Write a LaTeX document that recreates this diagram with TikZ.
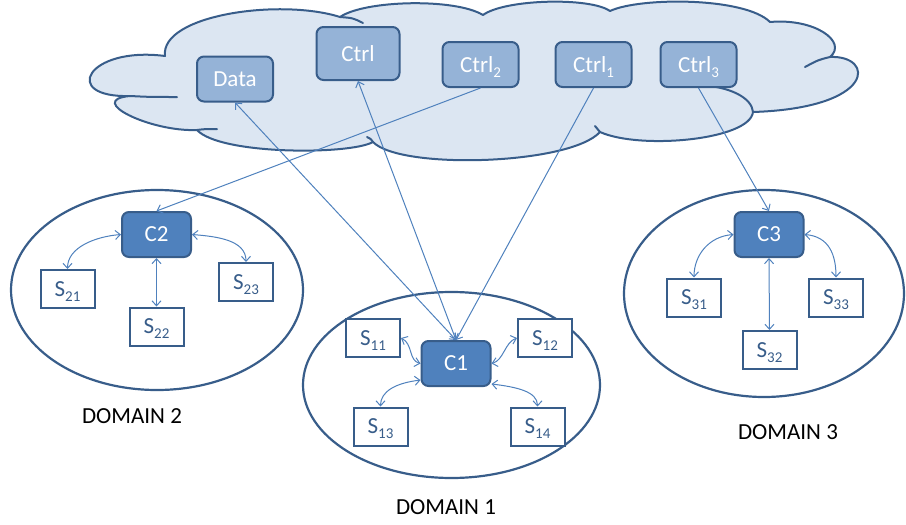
\documentclass[tikz,border=0pt]{standalone}
\usepackage{fontspec}
\setmainfont{Carlito}
\usetikzlibrary{arrows.meta,shapes.geometric}
\definecolor{cloudfill}{HTML}{DCE6F2}
\definecolor{edgeblue}{HTML}{385D8A}
\definecolor{boxblue}{HTML}{95B3D7}
\definecolor{corefill}{HTML}{4F81BD}
\definecolor{wire}{HTML}{4F81BD}
% lowered index that does not change the height of the node text
\newcommand{\subx}[1]{\raisebox{-5pt}[0pt][0pt]{\fontsize{15}{16}\selectfont #1}}
\tikzset{
  txt/.style={font=\fontsize{23}{25}\selectfont},
  cloudbox/.style={txt, draw=edgeblue, line width=2pt, fill=boxblue, text=white,
    rounded corners=7pt, minimum width=76pt, minimum height=45pt, inner sep=0pt},
  corebox/.style={txt, draw=edgeblue, line width=2pt, fill=corefill, text=white,
    rounded corners=7pt, minimum width=69pt, minimum height=45pt, inner sep=0pt},
  swbox/.style={txt, draw=edgeblue, line width=2pt, fill=white, text=edgeblue,
    minimum width=54pt, minimum height=38pt, inner sep=0pt},
  domring/.style={ellipse, draw=edgeblue, line width=2.2pt, inner sep=0pt},
  domlabel/.style={font=\fontsize{23}{25}\selectfont, text=black},
  cloudline/.style={draw=edgeblue, line width=2pt},
  wirebase/.style={draw=wire, line width=1pt},
  onehead/.style={wirebase, -{Straight Barb[length=5pt,width=9pt]}},
  twohead/.style={wirebase, {Straight Barb[length=5pt,width=9pt]}-{Straight Barb[length=5pt,width=9pt]}},
}
\begin{document}
\begin{tikzpicture}[x=1pt,y=-1pt]
\useasboundingbox (0,0) rectangle (906,525);

% the cloud: lobes between cusps
\filldraw[cloudline, fill=cloudfill, line join=round]
  (130,96) .. controls (60,98) and (87,46) .. (165,56)
  .. controls (160,15) and (280,-2) .. (340,17)
  .. controls (365,0) and (455,-2) .. (483,15)
  .. controls (505,-1) and (590,-3) .. (610,11)
  .. controls (640,-3) and (745,-3) .. (770,22)
  .. controls (815,18) and (848,42) .. (830,57)
  .. controls (875,55) and (877,108) .. (753,112)
  .. controls (750,140) and (640,150) .. (600,132)
  .. controls (570,165) and (400,170) .. (373,142)
  .. controls (350,155) and (220,155) .. (197,130)
  .. controls (150,132) and (85,100) .. (130,96) -- cycle;
% inner ends of the lobes
\draw[cloudline, line cap=round]
  (130,96) .. controls (150,97) .. (177,97)
  (340,17) .. controls (353,18) .. (363,23)
  (830,57) .. controls (818,60) .. (805,67)
  (753,112) .. controls (752,98) and (730,86) .. (697,85)
  (600,132) .. controls (598,129) .. (595,126)
  (373,142) .. controls (371,139) .. (367,137)
  (197,130) .. controls (205,129) .. (217,129);

% domains
\node[domring, minimum width=292pt, minimum height=200pt] (dom2) at (157,290) {};
\node[domring, minimum width=297pt, minimum height=186pt] (dom1) at (451.5,385) {};
\node[domring, minimum width=280pt, minimum height=207pt] (dom3) at (764,293.5) {};

% boxes in the cloud
\node[cloudbox] (data) at (235,79) {Data};
\node[cloudbox, minimum width=83pt, minimum height=53pt] (ctrl) at (358,53.5) {Ctrl};
\node[cloudbox] (ctrl2) at (480.5,64.5) {Ctrl\subx{2}};
\node[cloudbox] (ctrl1) at (593.5,64.5) {Ctrl\subx{1}};
\node[cloudbox] (ctrl3) at (698.5,64.5) {Ctrl\subx{3}};

% controllers
\node[corebox] (c2) at (156.5,234.5) {C2};
\node[corebox] (c1) at (456,363.5) {C1};
\node[corebox] (c3) at (769,234.5) {C3};

% switches
\node[swbox] (s21) at (67.5,289) {S\subx{21}};
\node[swbox] (s22) at (156.5,326.5) {S\subx{22}};
\node[swbox] (s23) at (246,282) {S\subx{23}};
\node[swbox] (s11) at (373,338) {S\subx{11}};
\node[swbox] (s12) at (545,338) {S\subx{12}};
\node[swbox] (s13) at (380.5,426.5) {S\subx{13}};
\node[swbox] (s14) at (537.5,426.5) {S\subx{14}};
\node[swbox] (s31) at (694,297.5) {S\subx{31}};
\node[swbox] (s32) at (769.5,350) {S\subx{32}};
\node[swbox] (s33) at (836,297.5) {S\subx{33}};

% links between the cloud and the controllers
\draw[twohead] (c1.north) -- (data.south);
\draw[twohead] (c1.north) -- (ctrl.south);
\draw[onehead] (ctrl1.south) -- (c1.north);
\draw[onehead] (ctrl2.south) -- (c2.north);
\draw[onehead] (ctrl3.south) -- (c3.north);

% controller to switch links
\draw[twohead] (c2.west) .. controls +(-25,2) and +(0,-22) .. (s21.north);
\draw[twohead] (c2.south) -- (s22.north);
\draw[twohead] (c2.east) .. controls +(25,2) and +(0,-22) .. (s23.north);

\draw[twohead] (s11.east) .. controls +(12,6) and +(-12,-3) .. (c1.west);
\draw[twohead] (s12.west) .. controls +(-12,4) and +(12,-3) .. (c1.east);
\draw[twohead] (c1.205) .. controls +(-25,3) and +(0,-15) .. (s13.north);
\draw[twohead] (c1.-30) .. controls +(25,3) and +(0,-15) .. (s14.north);

\draw[twohead] (c3.west) .. controls +(-25,2) and +(0,-22) .. (s31.north);
\draw[twohead] (c3.south) -- (s32.north);
\draw[twohead] (c3.east) .. controls +(25,2) and +(0,-22) .. (s33.north);

% domain names
\node[domlabel] (lab2) at (132,416) {DOMAIN 2};
\node[domlabel] (lab1) at (446,507) {DOMAIN 1};
\node[domlabel] (lab3) at (788,432) {DOMAIN 3};
\end{tikzpicture}
\end{document}
